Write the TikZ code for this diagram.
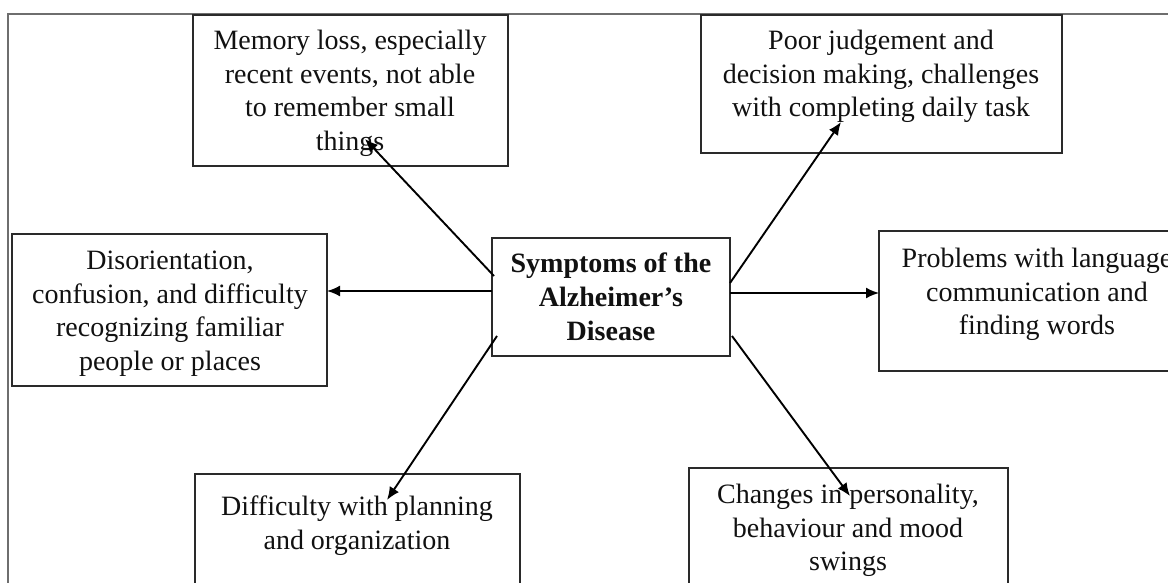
\documentclass[tikz,border=0pt]{standalone}
\usepackage{fontspec}
\setmainfont{Liberation Serif}
\usetikzlibrary{arrows.meta}
\definecolor{boxc}{HTML}{2A2A2A}
\definecolor{framec}{HTML}{6E6E6E}
\definecolor{txtc}{HTML}{111111}
\begin{document}
\begin{tikzpicture}[x=1pt,y=-1pt,
  box/.style={draw=boxc, line width=2pt, inner sep=0pt, outer sep=0pt, text=txtc},
  txt/.style={font=\fontsize{28}{33.5}\selectfont, align=center, inner sep=0pt, anchor=north, text=txtc},
  arr/.style={draw=black, line width=1.9pt, -{Latex[length=13pt,width=11pt]}},
  framel/.style={draw=framec, line width=1.2pt}
]
\useasboundingbox (0,0) rectangle (1168,583);
\clip (0,0) rectangle (1168,583);
\fill[white] (0,0) rectangle (1168,583);
% outer frame
\draw[framel] (8,590) -- (8,14) -- (1175,14);
% boxes
\node[box, minimum width=315pt, minimum height=151pt] (mem) at (350.5,90.5) {};
\node[box, minimum width=361pt, minimum height=138pt] (jud) at (881.5,84) {};
\node[box, minimum width=315pt, minimum height=152pt] (dis) at (169.5,310) {};
\node[box, minimum width=238pt, minimum height=118pt, font=\bfseries\fontsize{28}{34}\selectfont, align=center] (c) at (611,297) {Symptoms of the\\Alzheimer’s\\Disease};
\node[box, minimum width=316pt, minimum height=140pt] (lang) at (1037,301) {};
\node[box, minimum width=325pt, minimum height=146pt] (plan) at (357.5,547) {};
\node[box, minimum width=319pt, minimum height=152pt] (chg) at (848.5,544) {};
% texts
\node[txt] (memT) at (350,30) {Memory loss, especially\\recent events, not able\\to remember small\\things};
\node[txt] (judT) at (881,30) {Poor judgement and\\decision making, challenges\\with completing daily task};
\node[txt] (disT) at (170,251) {Disorientation,\\confusion, and difficulty\\recognizing familiar\\people or places};
\node[txt] (langT) at (1037,248) {Problems with language\\communication and\\finding words};
\node[txt] (planT) at (357,496) {Difficulty with planning\\and organization};
\node[txt] (chgT) at (848,484) {Changes in personality,\\behaviour and mood\\swings};
% arrow ends
\coordinate (memTip) at (365,139);
\coordinate (disTip) at (327,291);
\coordinate (planTip) at (387,500);
\coordinate (judTip) at (841,122);
\coordinate (langTip) at (879,293);
\coordinate (chgTip) at (850,496);
% arrows
\draw[arr] ([xshift=2pt,yshift=-38pt]c.north west) -- (memTip);
\draw[arr] ([yshift=-53pt]c.north west) -- (disTip);
\draw[arr] ([xshift=5pt,yshift=-98pt]c.north west) -- (planTip);
\draw[arr] ([yshift=-45pt]c.north east) -- (judTip);
\draw[arr] ([yshift=-55pt]c.north east) -- (langTip);
\draw[arr] ([xshift=2pt,yshift=-98pt]c.north east) -- (chgTip);
\end{tikzpicture}
\end{document}
